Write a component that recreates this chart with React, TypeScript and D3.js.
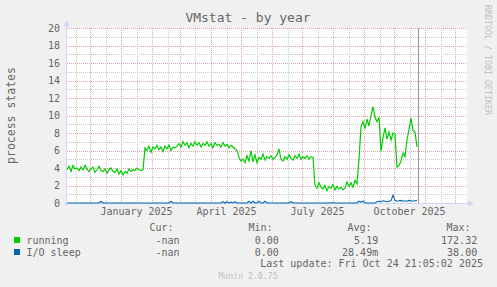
import React from "react";
import * as d3 from "d3";

const title = "VMstat - by year";
const yLabel = "process states";
const yTicks = [0, 2, 4, 6, 8, 10, 12, 14, 16, 18, 20];
const monthLabels = ["January 2025", "April 2025", "July 2025", "October 2025"];
const monthLabelDates = [Date.UTC(2025, 0, 1), Date.UTC(2025, 3, 1), Date.UTC(2025, 6, 1), Date.UTC(2025, 9, 1)];
const domainStart = Date.UTC(2024, 10, 8);
const domainEnd = Date.UTC(2025, 11, 13);
const lastUpdate = Date.UTC(2025, 9, 24, 21, 5, 2);
const stepDays = 2;

// running processes, one value every 2 days from Nov 8 2024
const running = [
  3.8, 4.2, 3.6, 4.3, 3.9, 4.0, 3.7, 4.1, 3.8, 4.3, 3.9, 3.6, 3.9, 4.1, 3.5, 3.8, 4.2, 3.7, 3.6, 3.9,
  3.4, 3.8, 4.0, 3.6, 3.5, 3.9, 3.3, 3.7, 3.2, 3.6, 3.4, 3.9, 3.6, 3.8, 3.7, 4.0, 3.8, 3.7, 3.8,
  6.3, 6.0, 6.5, 5.8, 6.4, 6.2, 6.6, 6.1, 6.4, 5.9, 6.5, 6.2, 6.6, 6.0, 6.4, 6.3, 6.5,
  6.8, 6.4, 7.0, 6.6, 6.9, 6.3, 6.8, 6.5, 7.0, 6.6, 6.9, 6.4, 6.8, 6.6, 7.0, 6.5, 6.8, 6.3, 6.9, 6.6,
  6.7, 6.4, 6.9, 6.5, 6.7, 6.3, 6.6, 6.4, 6.2, 6.0,
  5.2, 4.8, 5.0, 4.6, 5.4, 4.8, 6.0, 4.7, 5.5, 4.6, 5.2, 5.0, 5.6, 4.9, 5.3, 5.1, 5.4, 5.0, 5.2, 5.5,
  6.2, 5.0, 4.8, 5.3, 5.0, 5.5, 5.1, 4.9, 5.4, 5.1, 5.6, 5.0, 5.3, 5.1, 5.4, 5.0, 5.3, 5.2,
  2.0, 1.7, 2.3, 1.8, 1.6, 2.0, 1.4, 1.9, 1.7, 2.1, 1.5, 1.9, 1.6, 1.8, 1.5, 1.7, 2.4, 1.9, 2.3, 1.8,
  2.6, 2.2,
  5.0, 8.7, 9.3, 8.5, 9.6, 8.8, 10.0, 11.0, 9.8, 9.3, 9.8, 5.9, 7.4, 8.6, 7.3, 8.1, 7.2, 8.0, 7.8, 4.1,
  4.3, 4.8, 5.7, 5.3, 7.2, 8.4, 9.7, 8.3, 8.1, 6.4,
];

// I/O sleep, same sampling
const ioSleep = [
  0, 0, 0, 0, 0, 0, 0, 0, 0, 0,
  0, 0, 0, 0, 0, 0, 0, 0.2, 0, 0,
  0, 0, 0, 0, 0, 0, 0, 0, 0, 0,
  0, 0, 0, 0, 0, 0, 0, 0, 0, 0,
  0, 0, 0, 0, 0, 0, 0, 0, 0, 0,
  0, 0, 0.2, 0, 0, 0, 0, 0, 0, 0,
  0, 0, 0, 0, 0, 0, 0, 0, 0, 0,
  0, 0, 0, 0, 0, 0, 0, 0, 0.15, 0,
  0.15, 0, 0.1, 0, 0.15, 0, 0, 0, 0, 0,
  0, 0.2, 0, 0.2, 0, 0, 0.2, 0, 0, 0.2,
  0, 0, 0, 0, 0, 0, 0, 0, 0, 0,
  0, 0, 0.15, 0, 0, 0, 0, 0, 0, 0,
  0, 0, 0, 0, 0, 0, 0, 0, 0, 0,
  0, 0, 0, 0.05, 0, 0, 0, 0, 0, 0,
  0, 0, 0, 0, 0, 0, 0.2, 0.1, 0.2, 0,
  0, 0, 0, 0, 0, 0.15, 0.2, 0.15, 0.25, 0.2,
  0.15, 0.2, 0.25, 0.9, 0.3, 0.2, 0.25, 0.3, 0.2, 0.25,
  0.2, 0.3, 0.25, 0.2, 0.25, 0.3,
];

const seriesNames = ["running", "I/O sleep"];
const seriesColors = ["#00CC00", "#0066B3"];
const curValues = ["-nan", "-nan"];
const minValues = ["0.00", "0.00"];
const avgValues = ["5.19", "28.49m"];
const maxValues = ["172.32", "38.00"];
const legendHeaders = ["Cur:", "Min:", "Avg:", "Max:"];

const W = 497;
const H = 287;
const FONT = "'DejaVu Sans Mono', monospace";
const DAY = 86400000;

export default function App() {
  const left = 67, right = 467, top = 28, bottom = 203;
  const x = d3.scaleUtc().domain([domainStart, domainEnd]).range([left, right]);
  const y = d3.scaleLinear().domain([0, 20]).range([bottom, top]);

  const majorMonths = d3.utcMonth.range(new Date(domainStart), new Date(domainEnd));
  const minorDates = d3.utcMonth
    .range(new Date(domainStart - 31 * DAY), new Date(domainEnd))
    .map((d) => new Date(d.getTime() + 15.5 * DAY))
    .filter((d) => d.getTime() > domainStart && d.getTime() < domainEnd);

  const minorY = d3.range(1, 20, 2);
  const majorY = yTicks;

  const line = d3
    .line<number>()
    .x((_, i) => x(domainStart + i * stepDays * DAY))
    .y((v) => y(v));

  const px = (v: number) => Math.round(v) + 0.5;

  const valueEnds = [179.5, 278.8, 378.2, 477.2];
  const headerStarts = [149.5, 248.5, 347.5, 446.5];
  const rowBase = [243.5, 255.5];

  return (
    <svg width={W} height={H} style={{ position: "absolute", left: 0, top: 0 }} fontFamily={FONT}>
      <rect x={0} y={0} width={W} height={H} fill="#F0F0F0" />
      <rect x={left} y={top} width={right - left} height={bottom - top} fill="#FFFFFF" />

      {/* minor grid */}
      <g stroke="#C8C8C8" strokeWidth={1} strokeDasharray="1,1">
        {minorY.map((v) => (
          <line key={"my" + v} x1={left} x2={right} y1={px(y(v))} y2={px(y(v))} />
        ))}
        {minorDates.map((d) => (
          <line key={"mx" + d.getTime()} x1={px(x(d))} x2={px(x(d))} y1={top} y2={bottom} />
        ))}
      </g>
      {/* major grid */}
      <g stroke="#E6A3A3" strokeWidth={1} strokeDasharray="1,1">
        {majorY.map((v) => (
          <line key={"My" + v} x1={left} x2={right} y1={px(y(v))} y2={px(y(v))} />
        ))}
        {majorMonths.map((d) => (
          <line key={"Mx" + d.getTime()} x1={px(x(d))} x2={px(x(d))} y1={top} y2={bottom} />
        ))}
      </g>

      {/* axes */}
      <g stroke="#CFD6F8" strokeWidth={1}>
        <line x1={left - 0.5} x2={left - 0.5} y1={top - 4} y2={bottom + 3} />
        <line x1={left - 3} x2={right + 3} y1={bottom + 0.5} y2={bottom + 0.5} />
      </g>
      <path d={`M${left - 3.5},${top - 2} L${left - 0.5},${top - 8} L${left + 2.5},${top - 2} Z`} fill="#CFD6F8" />
      <path d={`M${right + 1},${bottom - 2.5} L${right + 7},${bottom + 0.5} L${right + 1},${bottom + 3.5} Z`} fill="#CFD6F8" />

      {/* series */}
      <path d={line(running) || ""} fill="none" stroke={seriesColors[0]} strokeWidth={1.2} />
      <path d={line(ioSleep) || ""} fill="none" stroke={seriesColors[1]} strokeWidth={1.1} />

      {/* now rule */}
      <line x1={px(x(lastUpdate))} x2={px(x(lastUpdate))} y1={top} y2={bottom} stroke="#999999" strokeWidth={1} />

      {/* title */}
      <text x={248} y={22} textAnchor="middle" fontSize={13} fill="#666666">
        {title}
      </text>

      {/* y tick labels */}
      {yTicks.map((v) => (
        <text key={"yt" + v} x={60} y={y(v) + 3.5} textAnchor="end" fontSize={10} fill="#666666">
          {v}
        </text>
      ))}

      {/* x labels */}
      {monthLabels.map((l, i) => (
        <text key={l} x={x(monthLabelDates[i] + 15.5 * DAY)} y={215} textAnchor="middle" fontSize={10} fill="#666666">
          {l}
        </text>
      ))}

      {/* y label */}
      <text transform={`translate(15,115.5) rotate(-90)`} textAnchor="middle" fontSize={11.5} fill="#666666">
        {yLabel}
      </text>

      {/* watermark */}
      <text transform={`translate(485,60) rotate(90)`} textAnchor="middle" fontSize={8.3} fill="#C0C0C0">
        RRDTOOL / TOBI OETIKER
      </text>

      {/* legend */}
      {legendHeaders.map((h, i) => (
        <text key={h} x={headerStarts[i]} y={231} fontSize={10} fill="#666666">
          {h}
        </text>
      ))}
      {seriesNames.map((n, r) => (
        <g key={n}>
          <rect x={14} y={rowBase[r] - 6.5} width={6} height={6} fill={seriesColors[r]} />
          <text x={26.5} y={rowBase[r]} fontSize={10} fill="#666666">
            {n}
          </text>
          {[curValues[r], minValues[r], avgValues[r], maxValues[r]].map((v, c) => (
            <text key={c} x={valueEnds[c]} y={rowBase[r]} textAnchor="end" fontSize={10} fill="#666666">
              {v}
            </text>
          ))}
        </g>
      ))}
      <text x={483} y={267} textAnchor="end" fontSize={10} fill="#666666">
        Last update: Fri Oct 24 21:05:02 2025
      </text>
      <text x={248} y={279} textAnchor="middle" fontSize={8.2} fill="#C0C0C0">
        Munin 2.0.75
      </text>
    </svg>
  );
}
